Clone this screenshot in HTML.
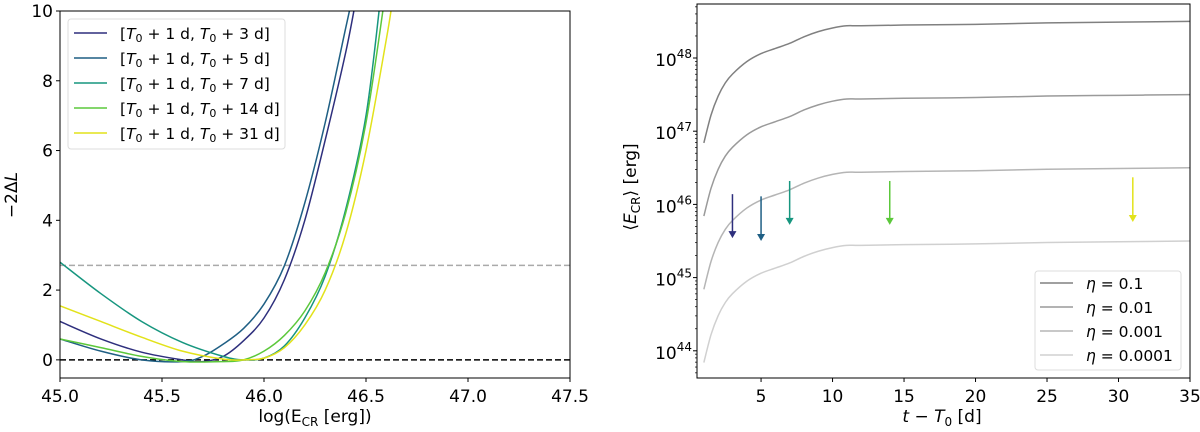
<!DOCTYPE html>
<html><head><meta charset="utf-8"><style>
body{margin:0;background:#fff;}
svg{display:block;font-family:"DejaVu Sans","Liberation Sans",sans-serif;}
</style></head><body>
<svg id="fig" width="1200" height="432" xmlns="http://www.w3.org/2000/svg"></svg>
<script>
// ---- Left panel data ----
const seriesLabels = ["3 d","5 d","7 d","14 d","31 d"];
const seriesColors = ["#2e2f7d","#1f5f84","#17967f","#5cc83b","#e2e21a"];
const s3x = [45.0,45.2,45.4,45.6,45.7,45.8,45.9,46.0,46.1,46.2,46.3,46.4,46.45];
const s3y = [1.1,0.6,0.22,0.0,-0.05,0.1,0.55,1.2,2.3,4.0,6.3,8.8,10.3];
const s5x = [45.0,45.2,45.4,45.6,45.7,45.8,45.9,46.0,46.1,46.2,46.3,46.4,46.43];
const s5y = [0.6,0.25,0.0,-0.05,0.1,0.45,0.9,1.6,2.7,4.5,6.8,9.5,10.3];
const s7x = [45.0,45.2,45.4,45.6,45.8,45.9,46.0,46.1,46.2,46.3,46.4,46.5,46.57];
const s7y = [2.8,1.9,1.1,0.5,0.1,0.0,0.05,0.4,1.2,2.4,4.3,7.0,10.3];
const s14x = [45.0,45.2,45.4,45.6,45.8,45.9,46.0,46.1,46.2,46.3,46.4,46.5,46.59];
const s14y = [0.6,0.35,0.1,-0.05,-0.05,0.0,0.25,0.7,1.4,2.5,4.2,6.8,10.3];
const s31x = [45.0,45.2,45.4,45.6,45.8,45.9,46.0,46.1,46.2,46.3,46.4,46.5,46.6,46.63];
const s31y = [1.55,1.1,0.65,0.25,0.02,0.0,0.05,0.35,1.0,2.0,3.6,6.0,9.2,10.3];
const leftXTicks = [45.0,45.5,46.0,46.5,47.0,47.5];
const leftYTicks = [0,2,4,6,8,10];
const thresholdValue = 2.71;
// ---- Right panel data ----
const timeDays = [1,1.5,2,2.5,3,4,5,6,7,8,9,10,11,12,15,20,25,30,35];
const logEBase = [46.84,47.22,47.48,47.66,47.78,47.95,48.06,48.13,48.20,48.29,48.36,48.41,48.44,48.44,48.45,48.46,48.48,48.49,48.50];
const etaValues = ["0.1","0.01","0.001","0.0001"];
const etaOffsets = [0,-1,-2,-3];
const etaColors = ["#808080","#9a9a9a","#b5b5b5","#d0d0d0"];
const arrowT = [3,5,7,14,31];
const arrowTop = [46.14,46.11,46.32,46.32,46.37];
const arrowBottom = [45.54,45.50,45.72,45.72,45.76];
const rightXTicks = [5,10,15,20,25,30,35];
const rightYTicks = [44,45,46,47,48];

const NS="http://www.w3.org/2000/svg";
const svg=document.getElementById('fig');
function mk(tag,attrs,parent){const e=document.createElementNS(NS,tag);for(const k in attrs)e.setAttribute(k,attrs[k]);(parent||svg).appendChild(e);return e;}

const L={x0:60,x1:570,y0:378,y1:11,xmin:45,xmax:47.5,ymin:-0.52,ymax:10};
const lx=v=>L.x0+(v-L.xmin)/(L.xmax-L.xmin)*(L.x1-L.x0);
const ly=v=>L.y0-(v-L.ymin)/(L.ymax-L.ymin)*(L.y0-L.y1);
const R={x0:697,x1:1190,y0:378,y1:4,xmin:0.52,xmax:35};
const rx=v=>R.x0+(v-R.xmin)/(R.xmax-R.xmin)*(R.x1-R.x0);
const ry=v=>58+(48-v)*73.2;

const defs=mk('defs',{});
const cp=mk('clipPath',{id:'clipL'},defs);mk('rect',{x:L.x0,y:L.y1,width:L.x1-L.x0,height:L.y0-L.y1},cp);

function spline(pts){let d='M'+pts[0][0].toFixed(2)+','+pts[0][1].toFixed(2);
 for(let i=0;i<pts.length-1;i++){const p0=pts[Math.max(0,i-1)],p1=pts[i],p2=pts[i+1],p3=pts[Math.min(pts.length-1,i+2)];
  const c1=[p1[0]+(p2[0]-p0[0])/6,p1[1]+(p2[1]-p0[1])/6],c2=[p2[0]-(p3[0]-p1[0])/6,p2[1]-(p3[1]-p1[1])/6];
  d+=` C${c1[0].toFixed(2)},${c1[1].toFixed(2)} ${c2[0].toFixed(2)},${c2[1].toFixed(2)} ${p2[0].toFixed(2)},${p2[1].toFixed(2)}`;}
 return d;}

// ---------- LEFT PANEL ----------
const gL=mk('g',{});


let hl=mk('line',{x1:L.x0,x2:L.x1,y1:ly(thresholdValue),y2:ly(thresholdValue),stroke:'#aaaaaa','stroke-width':1.5,'stroke-dasharray':'6,3'},gL);


let zl=mk('line',{x1:L.x0,x2:L.x1,y1:ly(0),y2:ly(0),stroke:'#000','stroke-width':1.5,'stroke-dasharray':'6,3'},gL);


const SX=[s3x,s5x,s7x,s14x,s31x],SY=[s3y,s5y,s7y,s14y,s31y];
const cg=mk('g',{'clip-path':'url(#clipL)'},gL);
for(let s=0;s<5;s++){
 const p=mk('path',{d:spline(SX[s].map((x,i)=>[lx(x),ly(SY[s][i])])),fill:'none',stroke:seriesColors[s],'stroke-width':1.5},cg);
 
 
}
let fr=mk('rect',{x:L.x0,y:L.y1,width:L.x1-L.x0,height:L.y0-L.y1,fill:'none',stroke:'#000','stroke-width':1},gL);


leftXTicks.forEach(v=>{mk('line',{x1:lx(v),x2:lx(v),y1:L.y0,y2:L.y0+4,stroke:'#000'},gL);
 const t=mk('text',{x:lx(v),y:L.y0+24,'font-size':17,'text-anchor':'middle'},gL);t.textContent=v.toFixed(1);
 
 });
leftYTicks.forEach(v=>{mk('line',{x1:L.x0-4,x2:L.x0,y1:ly(v),y2:ly(v),stroke:'#000'},gL);
 const t=mk('text',{x:L.x0-7,y:ly(v)+6,'font-size':17,'text-anchor':'end'},gL);t.textContent=v;
 
 });
let xt=mk('text',{x:315,y:422,'font-size':17,'text-anchor':'middle'},gL);
xt.innerHTML='log(E<tspan font-size="12" dy="4">CR</tspan><tspan dy="-4"> [erg])</tspan>';


let yt=mk('text',{transform:'translate(17,195) rotate(-90)','font-size':17,'text-anchor':'middle'},gL);
yt.innerHTML='−2Δ<tspan font-style="italic">L</tspan>';


const lg=mk('g',{},gL);


mk('rect',{x:68,y:19,width:217,height:130,rx:3,fill:'#fff','fill-opacity':0.85,stroke:'#ddd'},lg);
for(let s=0;s<5;s++){const yy=33+s*25;
 mk('line',{x1:74,x2:107,y1:yy,y2:yy,stroke:seriesColors[s],'stroke-width':1.5},lg);
 const num=seriesLabels[s].split(' ')[0];
 const t=mk('text',{x:120,y:yy+6,'font-size':15.5},lg);
 t.innerHTML=`[<tspan font-style="italic">T</tspan><tspan font-size="11" dy="3">0</tspan><tspan dy="-3"> + 1 d, </tspan><tspan font-style="italic">T</tspan><tspan font-size="11" dy="3">0</tspan><tspan dy="-3"> + ${num} d]</tspan>`;
 
 }

// ---------- RIGHT PANEL ----------
const gR=mk('g',{});


for(let e=0;e<4;e++){
 const p=mk('path',{d:spline(timeDays.map((t,i)=>[rx(t),ry(logEBase[i]+etaOffsets[e])])),fill:'none',stroke:etaColors[e],'stroke-width':1.5},gR);
 
 
}
for(let a=0;a<arrowT.length;a++){
 const x=rx(arrowT[a]),yT=ry(arrowTop[a]),yB=ry(arrowBottom[a]);
 const g=mk('g',{},gR);
 
 
 mk('line',{x1:x,x2:x,y1:yT,y2:yB-6,stroke:seriesColors[a],'stroke-width':1.5},g);
 mk('polygon',{points:`${x-4},${yB-7} ${x+4},${yB-7} ${x},${yB}`,fill:seriesColors[a]},g);
}
let fr2=mk('rect',{x:R.x0,y:R.y1,width:R.x1-R.x0,height:R.y0-R.y1,fill:'none',stroke:'#000','stroke-width':1},gR);


rightXTicks.forEach(v=>{mk('line',{x1:rx(v),x2:rx(v),y1:R.y0,y2:R.y0+4,stroke:'#000'},gR);
 const t=mk('text',{x:rx(v),y:R.y0+24,'font-size':17,'text-anchor':'middle'},gR);t.textContent=v;
 
 });
rightYTicks.forEach(v=>{mk('line',{x1:R.x0-4,x2:R.x0,y1:ry(v),y2:ry(v),stroke:'#000'},gR);
 for(let m=2;m<10;m++){const yy=ry(v+Math.log10(m));if(yy>R.y1&&yy<R.y0)mk('line',{x1:R.x0-2,x2:R.x0,y1:yy,y2:yy,stroke:'#000','stroke-width':0.7},gR);}
 const t=mk('text',{x:R.x0-5,y:ry(v)+8,'font-size':17,'text-anchor':'end'},gR);
 t.innerHTML=`10<tspan font-size="12" dy="-8">${v}</tspan>`;
 
 });
for(let m=2;m<10;m++){const yy=ry(43+Math.log10(m));if(yy>R.y1&&yy<R.y0)mk('line',{x1:R.x0-2,x2:R.x0,y1:yy,y2:yy,stroke:'#000','stroke-width':0.7},gR);}
let xt2=mk('text',{x:942,y:422,'font-size':17,'text-anchor':'middle'},gR);
xt2.innerHTML='<tspan font-style="italic">t</tspan> − <tspan font-style="italic">T</tspan><tspan font-size="12" dy="4">0</tspan><tspan dy="-4"> [d]</tspan>';


let yt2=mk('text',{transform:'translate(636,187) rotate(-90)','font-size':17,'text-anchor':'middle'},gR);
yt2.innerHTML='⟨<tspan font-style="italic">E</tspan><tspan font-size="12" dy="4">CR</tspan><tspan dy="-4">⟩ [erg]</tspan>';


const lg2=mk('g',{},gR);


mk('rect',{x:1035,y:271,width:146,height:99,rx:3,fill:'#fff','fill-opacity':0.85,stroke:'#ddd'},lg2);
for(let e=0;e<4;e++){const yy=283+e*24;
 mk('line',{x1:1040,x2:1073,y1:yy,y2:yy,stroke:etaColors[e],'stroke-width':1.5},lg2);
 const t=mk('text',{x:1086,y:yy+6,'font-size':15.5},lg2);
 t.innerHTML=`<tspan font-style="italic">η</tspan> = ${etaValues[e]}`;
 
 }
</script>
</body></html>
